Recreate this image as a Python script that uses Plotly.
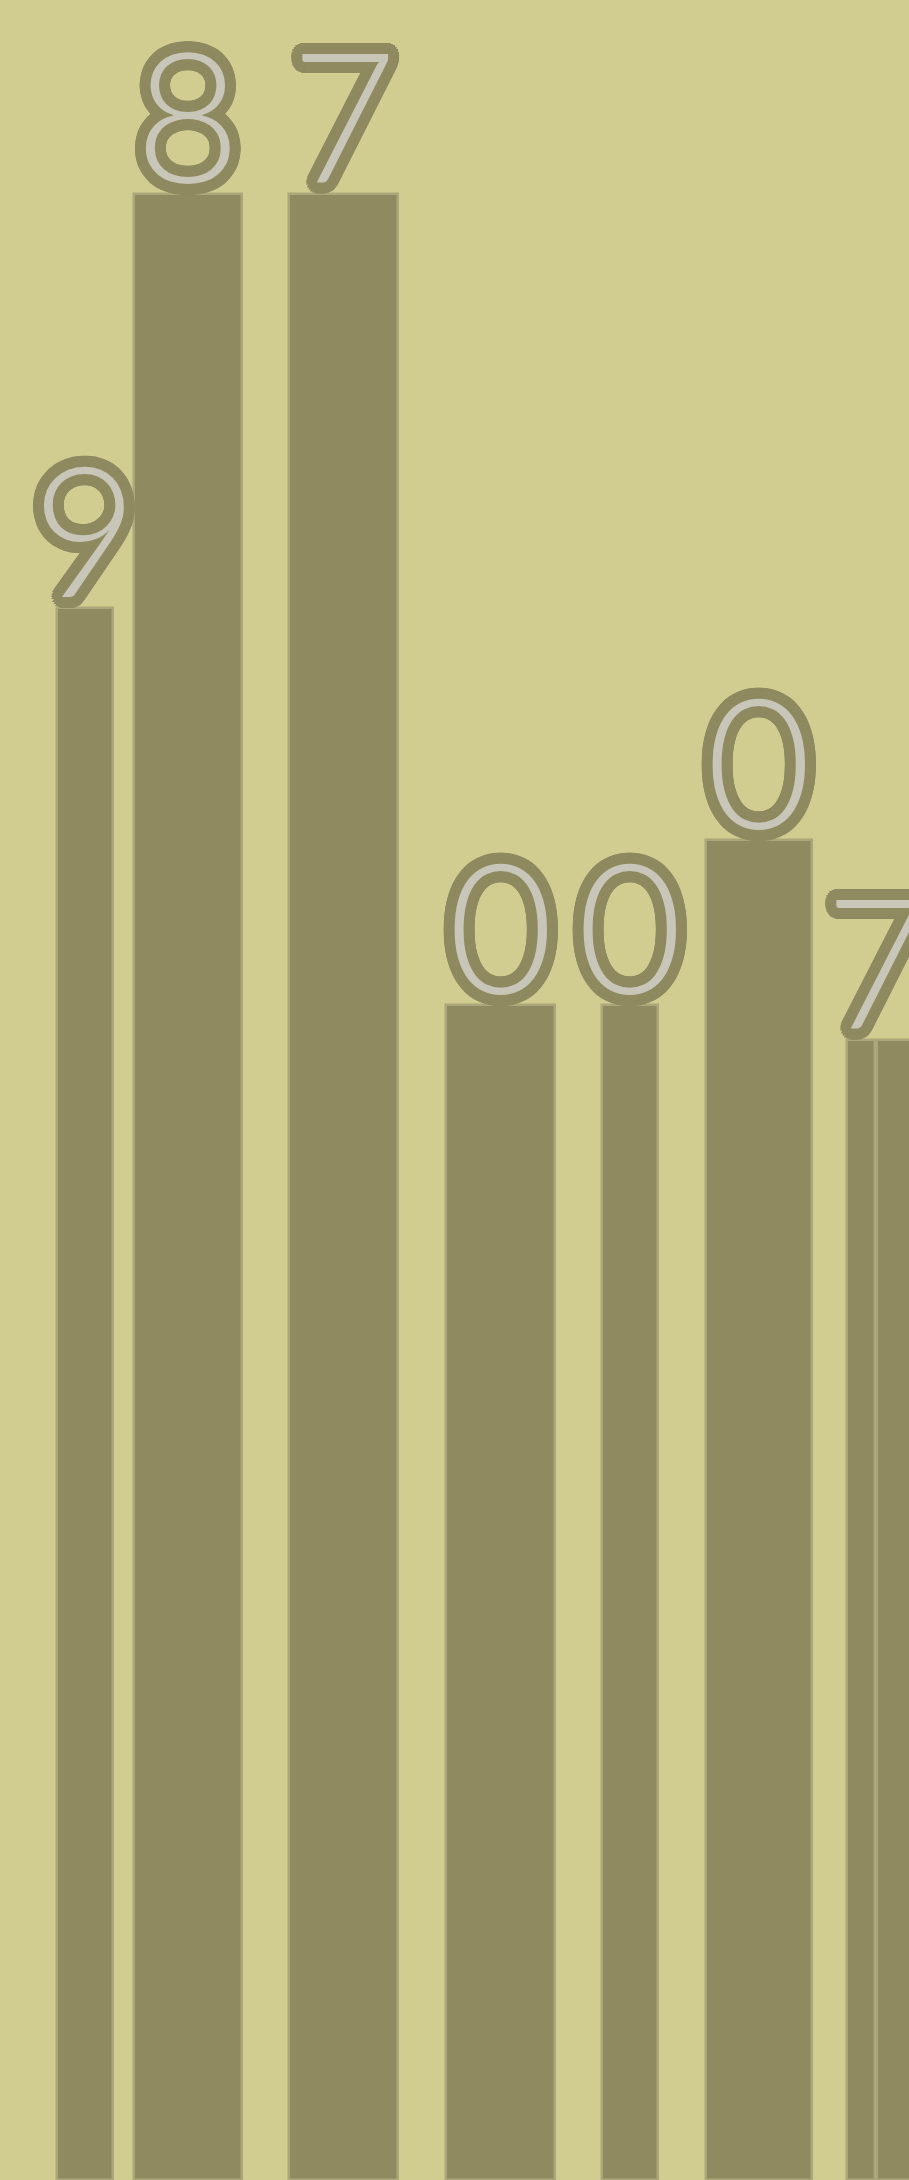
import math
import plotly.graph_objects as go

# Bar data: centre position, width and height of each bar
bar_x = [8.5, 18.8, 34.35, 50.05, 63.0, 75.9, 86.1, 89.5]
bar_width = [5.6, 10.8, 10.9, 10.9, 5.6, 10.6, 2.8, 3.6]
bar_value = [79.3, 100.2, 100.2, 59.3, 59.3, 67.6, 57.5, 57.5]

# Digit labels and where they sit (the last one spans the two narrow bars)
label_text = ["9", "8", "7", "0", "0", "0", "7"]
label_x = [8.5, 18.8, 34.35, 50.05, 63.0, 75.9, 87.8]
label_y = [79.3, 100.2, 100.2, 59.3, 59.3, 67.6, 57.5]

BG = "#d1cc8f"
BAR = "#8f8a60"
EDGE = "#aca77a"
GLYPH = "#c8c6b8"


def halo(color, radii=(2, 4, 6, 8, 9.5, 11), steps=28):
    """Ring of hard text-shadows that outlines the glyphs."""
    parts = []
    for r in radii:
        for k in range(steps):
            a = 2 * math.pi * k / steps
            parts.append(f"{r * math.cos(a):.1f}px {r * math.sin(a):.1f}px 0 {color}")
    return ", ".join(parts)


fig = go.Figure()
fig.add_trace(go.Bar(
    x=bar_x,
    y=bar_value,
    width=bar_width,
    marker=dict(color=BAR, line=dict(color=EDGE, width=2.5)),
    hoverinfo="skip",
))

for t, x, y in zip(label_text, label_x, label_y):
    fig.add_annotation(
        x=x, y=y, text=t, showarrow=False,
        xanchor="center", yanchor="bottom", yshift=-30,
        font=dict(family="Lato", size=182, color=GLYPH, weight=300,
                  shadow=halo(BAR)),
    )

fig.update_layout(
    width=909, height=2180,
    margin=dict(l=0, r=0, t=0, b=0),
    paper_bgcolor=BG, plot_bgcolor=BG,
    showlegend=False,
    bargap=0,
    xaxis=dict(range=[0, 90.9], visible=False, fixedrange=True),
    yaxis=dict(range=[0, 110], visible=False, fixedrange=True),
)

fig.write_html("out.html", config={"displayModeBar": False})
